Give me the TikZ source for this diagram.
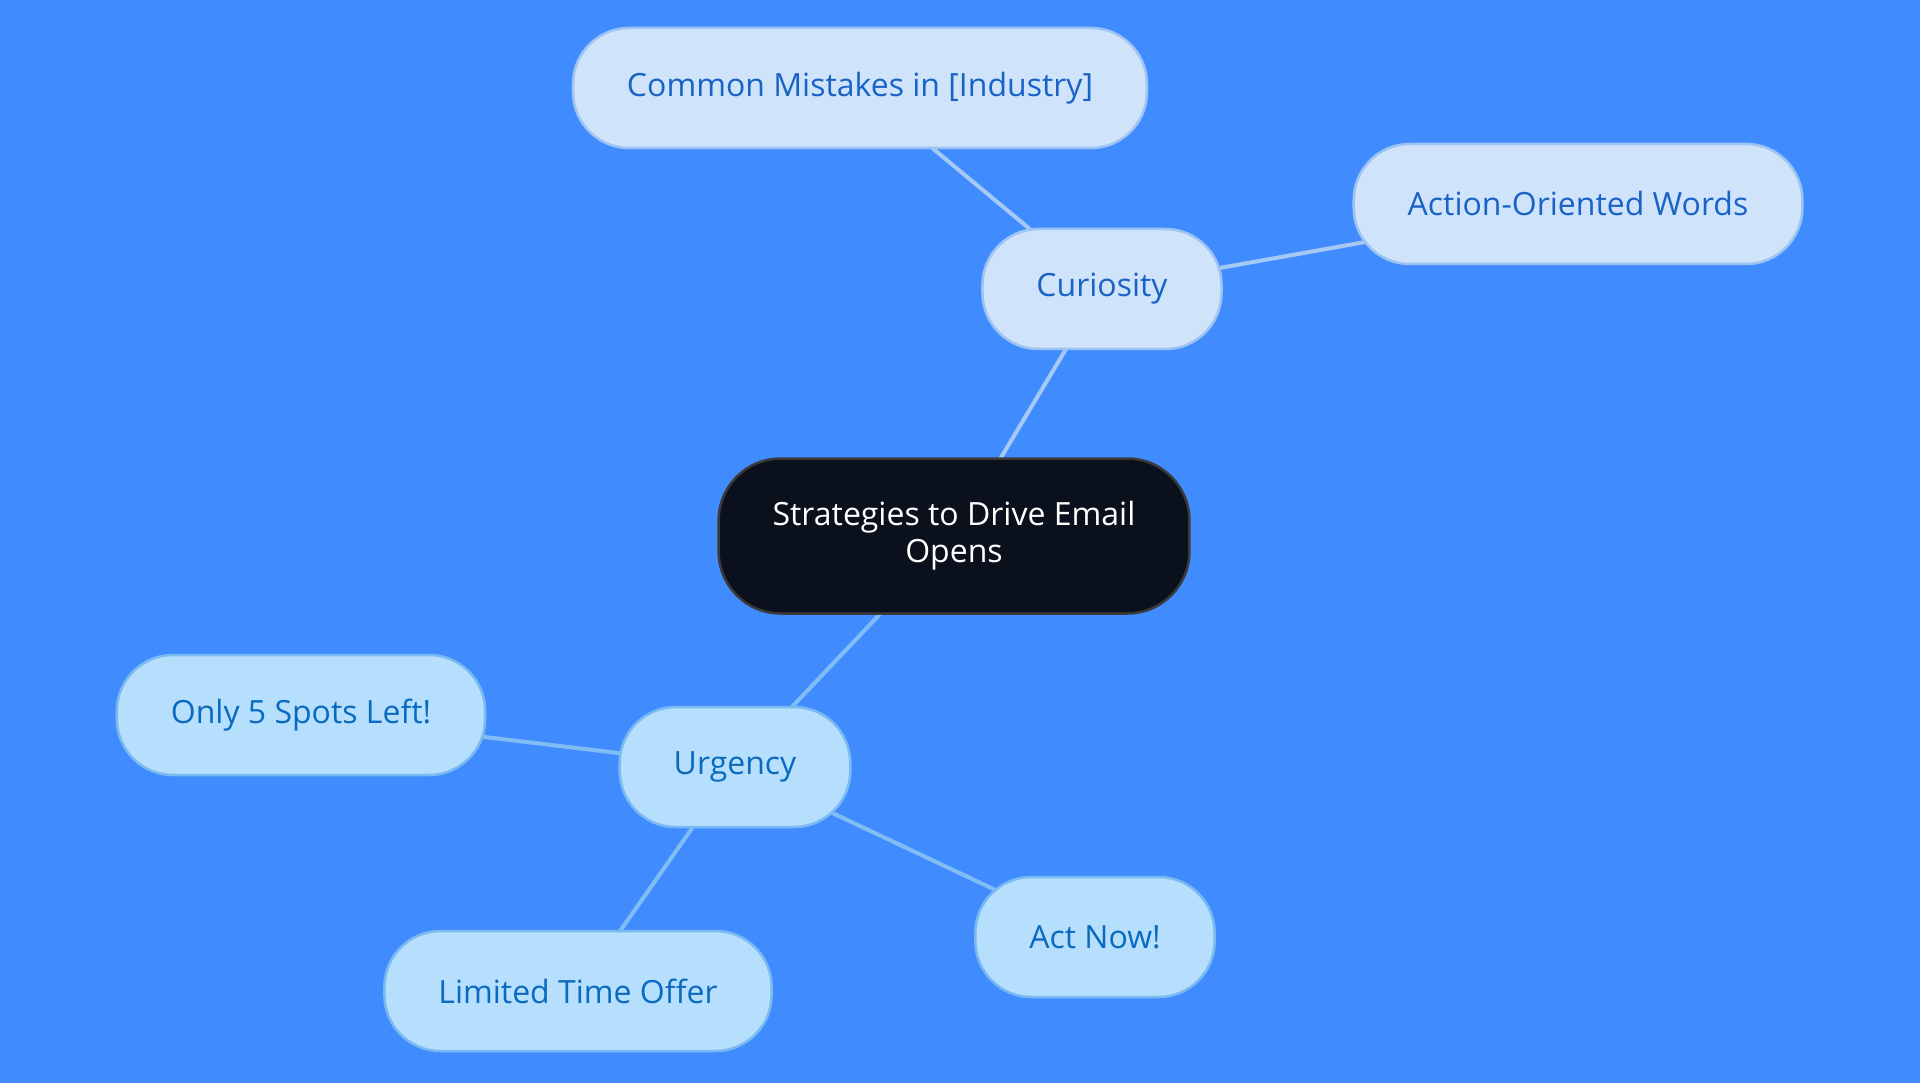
\documentclass[tikz,border=0pt]{standalone}
\usepackage{fontspec}
\setmainfont{Open Sans}
\usetikzlibrary{backgrounds}

\definecolor{bgblue}{HTML}{408CFF}
\definecolor{rootfill}{HTML}{0B111C}
\definecolor{rootline}{HTML}{3A3A3A}
\definecolor{curfill}{HTML}{CFE3FB}
\definecolor{curline}{HTML}{9CC3F2}
\definecolor{curtext}{HTML}{1A63C6}
\definecolor{urgfill}{HTML}{B5DFFD}
\definecolor{urgline}{HTML}{7BBAF0}
\definecolor{urgtext}{HTML}{0A6ABF}
\definecolor{curedge}{HTML}{A6C8F5}
\definecolor{urgedge}{HTML}{80BDF5}

\tikzset{
  topic/.style={draw, line width=2.5pt, rounded corners=56pt, minimum height=120pt,
    inner xsep=54pt, align=center, font=\fontsize{32}{37}\selectfont},
  rootnode/.style={topic, fill=rootfill, draw=rootline, text=white, minimum height=155pt, rounded corners=62pt},
  curnode/.style={topic, fill=curfill, draw=curline, text=curtext},
  urgnode/.style={topic, fill=urgfill, draw=urgline, text=urgtext},
  curlink/.style={draw=curedge, line width=4pt},
  urglink/.style={draw=urgedge, line width=4pt},
}

\begin{document}
\begin{tikzpicture}[x=1pt,y=-1pt]
	\node[rootnode] (root) at (954,536) {Strategies to Drive Email\\Opens};
	\node[curnode] (cur) at (1102,289) {Curiosity};
	\node[curnode] (mistakes) at (860,88) {Common Mistakes in [Industry]};
	\node[curnode] (action) at (1578,204) {Action-Oriented Words};
	\node[urgnode] (urg) at (735,767) {Urgency};
	\node[urgnode] (spots) at (301,715) {Only 5 Spots Left!};
	\node[urgnode] (offer) at (578,991) {Limited Time Offer};
	\node[urgnode] (now) at (1095,937) {Act Now!};
	
	\begin{pgfonlayer}{background}
		\fill[bgblue] (0,0) rectangle (1920,1083);
		\draw[curlink] (root.center)--(cur.center);
		\draw[curlink] (cur.center)--(mistakes.center);
		\draw[curlink] (cur.center)--(action.center);
		\draw[urglink] (root.center)--(urg.center);
		\draw[urglink] (urg.center)--(spots.center);
		\draw[urglink] (urg.center)--(offer.center);
		\draw[urglink] (urg.center)--(now.center);
	\end{pgfonlayer}
	\useasboundingbox (0,0) rectangle (1920,1083);
\end{tikzpicture}
\end{document}
